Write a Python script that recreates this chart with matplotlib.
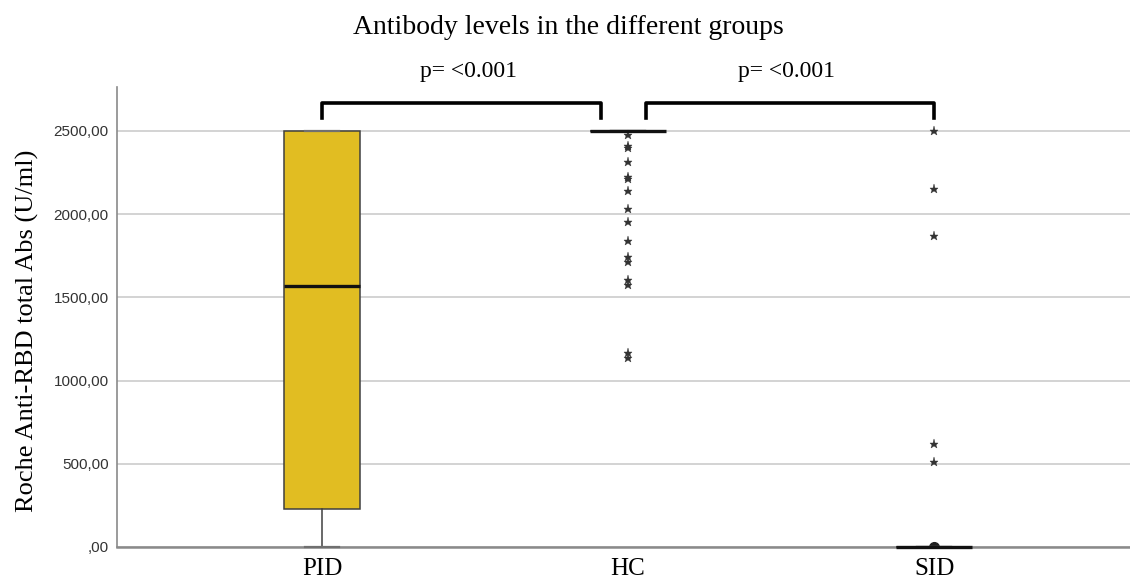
import numpy as np
import matplotlib
matplotlib.use("Agg")
import matplotlib.pyplot as plt
from matplotlib.ticker import FuncFormatter

# ================== DATA (U/ml) ==================
groups = ["PID", "HC", "SID"]
q1 = [228, 2500, 0]
medians = [1568, 2500, 0]
q3 = [2500, 2500, 0]
whisker_lo = [0, 2500, 0]
whisker_hi = [2500, 2500, 0]

# extreme outliers (stars) and outliers (circles)
hc_extremes = [2476, 2410, 2400, 2316, 2224, 2214, 2139, 2031, 1955,
               1841, 1745, 1715, 1605, 1575, 1164, 1134]
sid_extremes = [2500, 2151, 1871, 617, 513]
sid_outliers = [0]

p_labels = ["p= <0.001", "p= <0.001"]
y_ticks = [0, 500, 1000, 1500, 2000, 2500]
# =====================================================================

SERIF = "Liberation Serif"
SANS = "Liberation Sans"
BOX_COLOR = "#e1bd22"
EDGE = "#404040"

fig = plt.figure(figsize=(11.3, 5.81), dpi=100)
ax = fig.add_axes([117 / 1130, 1 - 547 / 581, 1 - 117 / 1130, (547 - 87) / 581])

stats = []
for i, g in enumerate(groups):
    stats.append(dict(label=g, q1=q1[i], med=medians[i], q3=q3[i],
                      whislo=whisker_lo[i], whishi=whisker_hi[i], fliers=[]))

pos = np.arange(len(groups))

# circle sits on the zero line, lower half clipped by the axes
ax.plot([pos[2]] * len(sid_outliers), sid_outliers, "o", color="#202020",
        markersize=7, zorder=2, clip_on=True)

bp = ax.bxp(stats, positions=pos, widths=0.25, capwidths=0.11,
            patch_artist=True, showfliers=False,
            boxprops=dict(facecolor=BOX_COLOR, edgecolor=EDGE, linewidth=1.1),
            medianprops=dict(color="#111111", linewidth=2.4, solid_capstyle="butt"),
            whiskerprops=dict(color=EDGE, linewidth=1.1),
            capprops=dict(color="#707070", linewidth=1.6))
for artist in bp["boxes"] + bp["whiskers"] + bp["caps"]:
    artist.set_clip_on(False)
    artist.set_zorder(3)
for artist in bp["medians"]:
    artist.set_clip_on(False)
    artist.set_zorder(5)

ax.plot([pos[1]] * len(hc_extremes), hc_extremes, "*", color="#333333",
        markersize=6.5, markeredgewidth=0.3, zorder=4)
ax.plot([pos[2]] * len(sid_extremes), sid_extremes, "*", color="#333333",
        markersize=6.5, markeredgewidth=0.3, zorder=4, clip_on=False)

ax.set_xlim(-0.67, 2.64)
ax.set_ylim(0, 2764)

ax.set_yticks(y_ticks)
ax.yaxis.set_major_formatter(FuncFormatter(
    lambda v, _: f"{v:.2f}".replace(".", ",").lstrip("0") if v == 0
    else f"{v:.2f}".replace(".", ",")))
ax.tick_params(axis="y", length=0, pad=6, labelsize=11, labelcolor="#333333")
for t in ax.get_yticklabels():
    t.set_fontfamily(SANS)
ax.set_xticks(pos)
ax.set_xticklabels(groups, fontfamily=SERIF, fontsize=18)
ax.tick_params(axis="x", length=0, pad=8)

ax.grid(axis="y", color="#cccccc", linewidth=1.2, zorder=0)
ax.set_axisbelow(True)
for s in ["top", "right"]:
    ax.spines[s].set_visible(False)
ax.spines["left"].set_color("#8a8a8a")
ax.spines["bottom"].set_color("#8a8a8a")
ax.spines["left"].set_linewidth(1.2)
ax.spines["bottom"].set_linewidth(1.8)

ax.set_ylabel("Roche Anti-RBD total Abs (U/ml)", fontfamily=SERIF, fontsize=19)
ax.yaxis.set_label_coords(-0.077, 0.47)

# significance brackets
bracket_spans = [(0.0, 0.91), (1.06, 2.0)]
text_x = [0.477, 1.516]
y_top, y_leg = 2668, 2578
for (x0, x1), tx, lab in zip(bracket_spans, text_x, p_labels):
    ax.plot([x0, x0, x1, x1], [y_leg, y_top, y_top, y_leg], color="black",
            linewidth=2.6, clip_on=False, solid_joinstyle="round")
    ax.text(tx, 2855, lab, ha="center", va="center", fontfamily=SERIF,
            fontsize=17, clip_on=False)

fig.text(568 / 1130, 1 - 28 / 581, "Antibody levels in the different groups",
         ha="center", va="center", fontfamily=SERIF, fontsize=20)

fig.savefig("out.png", dpi=100)
